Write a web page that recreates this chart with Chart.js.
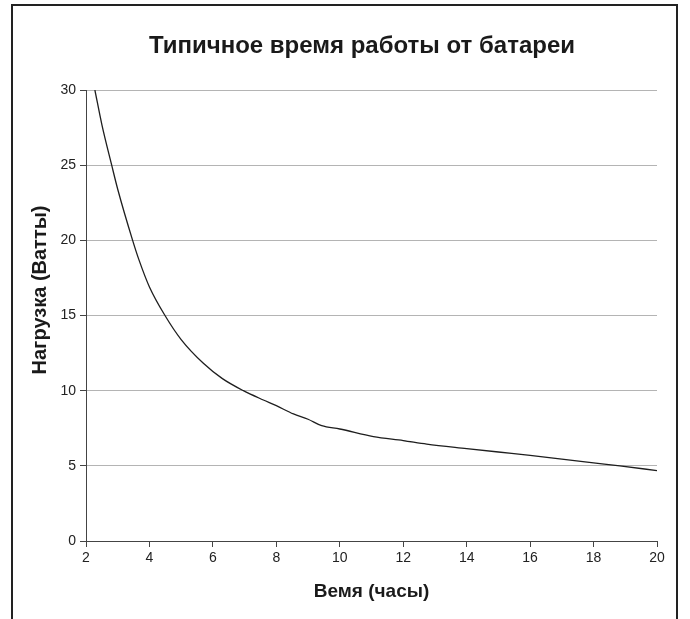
<!DOCTYPE html>
<html>
<head>
<meta charset="utf-8">
<script src="https://cdn.jsdelivr.net/npm/chart.js@4"></script>
<style>
  html, body { margin: 0; padding: 0; background: #fff; }
  #c { display: block; }
</style>
</head>
<body>
<canvas id="c" width="690" height="619"></canvas>
<script>
const chartTitle = "Типичное время работы от батареи";
const xAxisTitle = "Вемя (часы)";
const yAxisTitle = "Нагрузка (Ватты)";

const hours = [2.28, 2.5, 2.81, 3.0, 3.47, 3.67, 4.0, 4.49, 5.0, 5.7, 6.3, 6.96, 7.59, 8.0, 8.54, 9.0, 9.43, 10.0, 11.06, 12.0, 12.74, 14.0, 15.0, 16.0, 17.0, 18.0, 18.83, 20.0];
const watts = [30, 27.7, 25, 23.4, 20, 18.7, 16.9, 15, 13.4, 11.82, 10.8, 10.0, 9.38, 9.0, 8.45, 8.1, 7.67, 7.45, 6.94, 6.68, 6.45, 6.15, 5.92, 5.7, 5.45, 5.2, 5.0, 4.68];

const xMin = 2, xMax = 20, xStep = 2;
const yMin = 0, yMax = 30, yStep = 5;

const points = hours.map((h, i) => ({ x: h, y: watts[i] }));

const FONT = "'Liberation Sans', Arial, sans-serif";

const decor = {
  id: 'decor',
  afterDraw(chart) {
    const ctx = chart.ctx;
    ctx.save();
    // frame (left, top, right; bottom runs off the picture)
    ctx.strokeStyle = '#222';
    ctx.lineWidth = 2;
    ctx.beginPath();
    ctx.moveTo(12, 640);
    ctx.lineTo(12, 5);
    ctx.lineTo(677, 5);
    ctx.lineTo(677, 640);
    ctx.stroke();
    // main title
    ctx.fillStyle = '#1a1a1a';
    ctx.font = "bold 24px " + FONT;
    ctx.textAlign = 'center';
    ctx.textBaseline = 'middle';
    ctx.fillText(chartTitle, 362, 46);
    // y axis title
    ctx.font = "bold 20px " + FONT;
    ctx.translate(40, 290);
    ctx.rotate(-Math.PI / 2);
    ctx.fillText(yAxisTitle, 0, 0);
    ctx.restore();
  }
};

new Chart(document.getElementById('c'), {
  type: 'scatter',
  data: {
    datasets: [{
      data: points,
      showLine: true,
      borderColor: '#1e1e1e',
      borderWidth: 1.3,
      pointRadius: 0,
      cubicInterpolationMode: 'monotone',
      fill: false
    }]
  },
  options: {
    responsive: false,
    animation: false,
    devicePixelRatio: 1,
    layout: { padding: { left: 0, right: 33, top: 90, bottom: 0 } },
    plugins: {
      legend: { display: false },
      title: { display: false },
      tooltip: { enabled: false }
    },
    scales: {
      x: {
        type: 'linear',
        min: xMin, max: xMax,
        afterFit(scale) { scale.height = 78; },
        ticks: {
          stepSize: xStep,
          color: '#222',
          font: { family: FONT, size: 14 },
          padding: 3,
          maxRotation: 0
        },
        grid: {
          drawOnChartArea: false,
          drawTicks: true,
          tickLength: 6,
          tickColor: '#444'
        },
        border: { display: true, color: '#444', width: 1 },
        title: {
          display: true,
          text: xAxisTitle,
          color: '#1a1a1a',
          font: { family: FONT, size: 19, weight: 'bold' },
          padding: { top: 0, bottom: 16 }
        }
      },
      y: {
        type: 'linear',
        min: yMin, max: yMax,
        afterFit(scale) { scale.width = 86; },
        ticks: {
          stepSize: yStep,
          color: '#222',
          font: { family: FONT, size: 14 },
          padding: 4
        },
        grid: {
          color: '#b4b4b4',
          lineWidth: 1,
          drawTicks: true,
          tickLength: 6,
          tickColor: '#444'
        },
        border: { display: true, color: '#444', width: 1 }
      }
    }
  },
  plugins: [decor]
});
</script>
</body>
</html>
